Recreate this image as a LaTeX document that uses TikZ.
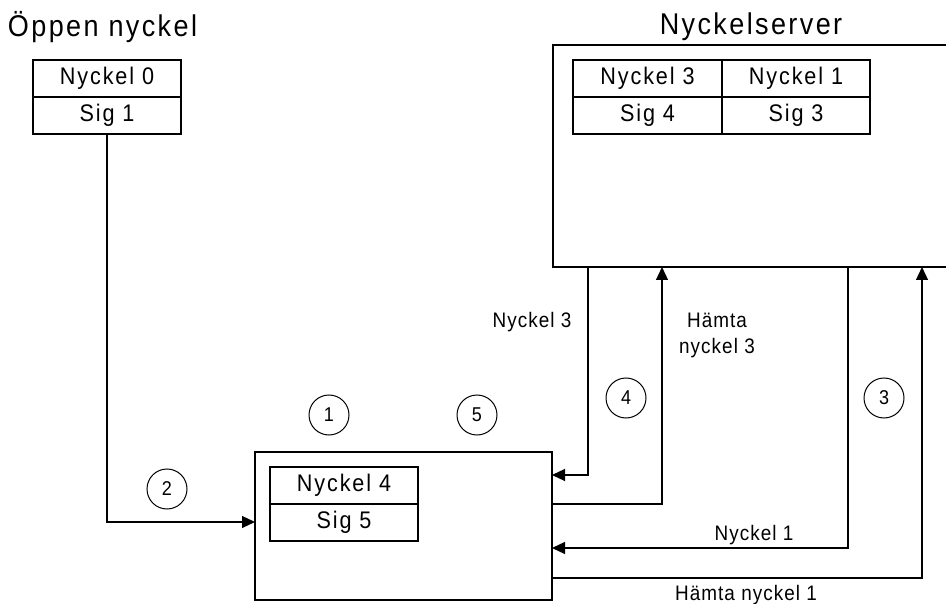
\documentclass[tikz,border=0pt]{standalone}
\usepackage{fontspec}
\setmainfont{Liberation Sans}
\newfontfamily\headfnt{Liberation Sans}[FakeStretch=0.9,LetterSpace=8]
\newfontfamily\cellfnt{Liberation Sans}[FakeStretch=0.9,LetterSpace=8]
\newfontfamily\lblfnt{Liberation Sans}[FakeStretch=0.9,LetterSpace=5]
\usetikzlibrary{arrows.meta}

\begin{document}
\begin{tikzpicture}[x=1pt,y=-1pt,
  every node/.style={inner sep=0pt, outer sep=0pt},
  heading/.style={anchor=base, font=\headfnt\fontsize{30}{35}\selectfont},
  cell/.style={draw, line width=1.2pt, minimum width=148pt, minimum height=37pt,
    anchor=north west, font=\cellfnt\fontsize{24}{28}\selectfont},
  box/.style={draw, line width=1.2pt, anchor=north west},
  num/.style={draw, circle, line width=1pt, minimum size=40pt,
    font=\lblfnt\fontsize{20}{24}\selectfont},
  lbl/.style={anchor=base, font=\lblfnt\fontsize{21}{25}\selectfont, align=center},
  link/.style={line width=1.2pt, -{Triangle[length=13pt,width=12pt]}},
]
\useasboundingbox (0,0) rectangle (946,604);
\clip (0,0) rectangle (946,604);

% headings
\node[heading, anchor=base west] (hpub) at (8,37) {Öppen nyckel};
\node[heading] (hsrv) at (751,35) {Nyckelserver};

% public key table
\node[cell] (pk0) at (33,60) {Nyckel 0};
\node[cell] (ps1) at (33,97) {Sig 1};

% key server with its table
\node[box, minimum width=420pt, minimum height=222pt] (server) at (553,45) {};
\node[cell, minimum width=149pt] (sk3) at (573,60) {Nyckel 3};
\node[cell] (sk1) at (722,60) {Nyckel 1};
\node[cell, minimum width=149pt] (ss4) at (573,97) {Sig 4};
\node[cell] (ss3) at (722,97) {Sig 3};

% client with its table
\node[box, minimum width=297pt, minimum height=148pt] (client) at (255,452) {};
\node[cell] (ck4) at (270,467) {Nyckel 4};
\node[cell] (cs5) at (270,504) {Sig 5};

% step numbers
\node[num] (n1) at (329,415) {1};
\node[num] (n5) at (477,415) {5};
\node[num] (n2) at (167,489) {2};
\node[num] (n4) at (626,398) {4};
\node[num] (n3) at (884,398) {3};

% lanes of the connectors
\coordinate (lpub) at (107,522);
\coordinate (lk3) at (588,475);
\coordinate (lh3) at (662,504);
\coordinate (lk1) at (848,548);
\coordinate (lh1) at (922,578);

\draw[link] (ps1.south) |- (client.west |- lpub);
\draw[link] (server.south -| lk3) |- (client.east |- lk3);
\draw[link] (client.east |- lh3) -| (server.south -| lh3);
\draw[link] (server.south -| lk1) |- (client.east |- lk1);
\draw[link] (client.east |- lh1) -| (server.south -| lh1);

% connector labels (a multi-line label sits on its last baseline)
\node[lbl] (tk3) at (532,328) {Nyckel 3};
\node[lbl] (th3) at (717,353) {Hämta\\nyckel 3};
\node[lbl] (tk1) at (754,540) {Nyckel 1};
\node[lbl] (th1) at (746,600) {Hämta nyckel 1};
\end{tikzpicture}
\end{document}
